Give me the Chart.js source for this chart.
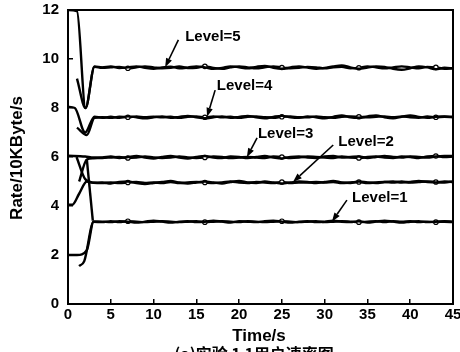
<!DOCTYPE html>
<html><head><meta charset="utf-8">
<script src="https://cdn.jsdelivr.net/npm/chart.js@4/dist/chart.umd.min.js"></script>
<style>html,body{margin:0;padding:0;background:#fff;}canvas{display:block;}</style>
</head><body>
<canvas id="c" width="460" height="352"></canvas>
<script>
// ---------- data ----------
const xTitle = 'Time/s';
const yTitle = 'Rate/10KByte/s';
const caption = '(a)实验 1 1用户速率图';
const xMin = 0, xMax = 45, xStep = 5;
const yMin = 0, yMax = 12, yStep = 2;

const steadyTime = [4,5,6,7,8,9,10,11,12,13,14,15,16,17,18,19,20,21,22,23,24,25,26,27,28,29,30,31,32,33,34,35,36,37,38,39,40,41,42,43,44,45];

// start-up transients (time, value)
const l5aStartT = [0, 1.05, 2.05, 3.1];   const l5aStartV = [12, 11.95, 8.0, 9.70];
const l5bStartT = [1.05, 2.05, 3.1];      const l5bStartV = [9.2, 8.0, 9.68];
const l4aStartT = [0, 0.8, 2.0, 3.1];     const l4aStartV = [8.05, 8.0, 7.0, 7.65];
const l4bStartT = [1.05, 2.2, 3.1];       const l4bStartV = [7.2, 6.9, 7.6];
const l3aStartT = [0, 2.0, 3.0];          const l3aStartV = [6.05, 6.02, 5.98];
const l3bStartT = [1.3, 2.2, 3.0];        const l3bStartV = [5.0, 5.9, 5.95];
const l2aStartT = [0, 0.5, 1.3, 2.2, 3.0];const l2aStartV = [4.05, 4.05, 4.5, 5.0, 4.95];
const l2bStartT = [1.0, 2.0, 3.0];        const l2bStartV = [6.0, 5.1, 4.95];
const l1aStartT = [0, 1.05, 2.2, 3.0];    const l1aStartV = [2.0, 2.0, 2.2, 3.37];
const l1bStartT = [1.3, 1.9, 3.0];        const l1bStartV = [1.55, 1.75, 3.35];
const l1cStartT = [2.2, 2.9];             const l1cStartV = [5.9, 3.4];

// steady-state values at steadyTime
const l5a = [9.66,9.70,9.63,9.66,9.70,9.64, 9.60,9.66,9.69,9.62,9.65,9.70, 9.66,9.60,9.64,9.70,9.66,9.62, 9.68,9.72,9.64,9.60,9.66,9.70, 9.65,9.60,9.64,9.70,9.74,9.66, 9.60,9.65,9.70,9.68,9.60,9.56, 9.62,9.70,9.66,9.58,9.64,9.62];
const l5b = [9.64,9.66,9.68,9.62,9.66,9.70, 9.66,9.62,9.64,9.70,9.63,9.64, 9.70,9.64,9.60,9.66,9.70,9.66, 9.62,9.66,9.70,9.65,9.62,9.64, 9.68,9.66,9.62,9.66,9.68,9.62, 9.64,9.70,9.66,9.62,9.66,9.70, 9.66,9.62,9.68,9.66,9.60,9.62];
const l4a = [7.60,7.64,7.60,7.66,7.62,7.58, 7.62,7.66,7.60,7.64,7.68,7.62, 7.58,7.62,7.66,7.60,7.64,7.68, 7.62,7.58,7.64,7.68,7.62,7.60, 7.66,7.62,7.58,7.64,7.70,7.62, 7.60,7.66,7.70,7.62,7.58,7.64, 7.70,7.64,7.60,7.64,7.66,7.64];
const l4b = [7.62,7.60,7.64,7.62,7.66,7.62, 7.64,7.62,7.64,7.60,7.64,7.66, 7.62,7.66,7.62,7.64,7.60,7.64, 7.66,7.62,7.60,7.64,7.66,7.62, 7.62,7.66,7.62,7.60,7.64,7.66, 7.64,7.62,7.64,7.66,7.62,7.66, 7.62,7.60,7.66,7.62,7.64,7.62];
const l3a = [5.98,6.02,5.96,6.00,6.04,5.98, 5.94,6.00,6.04,5.98,5.94,6.00, 6.04,5.98,5.96,6.02,6.00,5.96, 6.00,6.04,5.98,5.94,6.00,6.02, 5.98,5.96,6.02,6.04,5.98,6.00, 6.02,5.96,6.00,6.04,6.00,5.98, 6.02,6.00,5.98,6.02,6.04,6.04];
const l3b = [5.96,5.98,6.00,5.96,5.98,6.02, 5.98,5.96,5.98,6.02,5.98,5.96, 5.98,6.02,6.00,5.96,5.98,6.00, 5.98,5.96,6.02,6.00,5.96,5.98, 6.02,6.00,5.98,5.96,6.02,5.98, 5.96,6.00,6.02,5.98,5.96,6.02, 6.00,5.96,6.02,6.04,6.00,6.02];
const l2a = [4.96,4.92,4.98,5.00,4.94,4.90, 4.94,4.98,5.02,4.96,4.92,4.96, 5.00,4.96,4.92,4.98,5.02,4.96, 4.94,5.00,4.96,4.92,4.96,5.00, 4.98,4.94,4.98,5.02,4.96,4.94, 5.00,4.96,4.94,4.98,5.00,4.96, 4.98,5.02,4.98,4.96,5.00,4.98];
const l2b = [4.94,4.96,4.94,4.96,4.98,4.94, 4.96,4.94,4.98,4.94,4.96,4.98, 4.96,4.94,4.96,5.00,4.96,4.94, 4.98,4.96,4.94,4.98,4.94,4.96, 4.96,4.98,4.96,4.98,4.94,4.96, 4.98,4.94,4.96,4.98,4.96,5.00, 4.96,4.98,5.00,4.98,4.96,5.00];
const l1a = [3.36,3.34,3.38,3.36,3.32,3.36, 3.40,3.36,3.32,3.36,3.38,3.34, 3.36,3.40,3.36,3.32,3.38,3.36, 3.34,3.38,3.40,3.36,3.32,3.36, 3.38,3.34,3.36,3.40,3.36,3.34, 3.38,3.32,3.36,3.40,3.36,3.32, 3.36,3.38,3.34,3.36,3.38,3.36];
const l1b = [3.34,3.38,3.34,3.38,3.36,3.34, 3.36,3.38,3.36,3.34,3.36,3.38, 3.34,3.36,3.38,3.36,3.34,3.38, 3.36,3.34,3.36,3.38,3.36,3.34, 3.36,3.38,3.34,3.36,3.38,3.36, 3.34,3.36,3.38,3.34,3.38,3.36, 3.38,3.34,3.36,3.34,3.36,3.34];

// annotations: label, label anchor (time,value), arrow tail (time,value), arrow tip (time,value)
const annLabels = ['Level=5','Level=4','Level=3','Level=2','Level=1'];
const annTextT  = [13.7, 17.4, 22.2, 31.6, 33.2];
const annTextV  = [10.9, 8.9, 6.94, 6.61, 4.33];
const annTailT  = [12.9, 17.2, 22.1, 31.0, 32.6];
const annTailV  = [10.78, 8.73, 6.78, 6.49, 4.24];
const annTipT   = [11.35, 16.25, 20.9, 26.3, 30.85];
const annTipV   = [9.66, 7.64, 5.99, 4.98, 3.36];

// ---------- build ----------
function series(st, sv, tt, tv) {
  const pts = st.map((t, i) => ({x: t, y: sv[i]}));
  if (tt) tt.forEach((t, i) => pts.push({x: t, y: tv[i]}));
  return pts;
}
const FONT = '"Liberation Sans", Arial, sans-serif';
function ds(data, markers) {
  return {
    data, borderColor: '#000', borderWidth: 2.4, backgroundColor: '#fff',
    pointRadius: markers ? (c => (c.dataIndex % 9 === 6 ? 2.2 : 0)) : 0,
    pointBorderWidth: 1.2, pointBorderColor: '#000', pointBackgroundColor: '#fff',
    cubicInterpolationMode: 'monotone', fill: false
  };
}
const datasets = [
  ds(series(l5aStartT, l5aStartV, steadyTime, l5a), false),
  ds(series(l5bStartT, l5bStartV, steadyTime, l5b), true),
  ds(series(l4aStartT, l4aStartV, steadyTime, l4a), false),
  ds(series(l4bStartT, l4bStartV, steadyTime, l4b), true),
  ds(series(l3aStartT, l3aStartV, steadyTime, l3a), false),
  ds(series(l3bStartT, l3bStartV, steadyTime, l3b), true),
  ds(series(l2aStartT, l2aStartV, steadyTime, l2a), false),
  ds(series(l2bStartT, l2bStartV, steadyTime, l2b), true),
  ds(series(l1aStartT, l1aStartV, steadyTime, l1a), false),
  ds(series(l1bStartT, l1bStartV, steadyTime, l1b), true),
  ds(series(l1cStartT, l1cStartV), false)
];

const deco = {
  id: 'deco',
  afterDraw(chart) {
    const ctx = chart.ctx, xs = chart.scales.x, ys = chart.scales.y;
    ctx.save();
    ctx.strokeStyle = '#000'; ctx.fillStyle = '#000';
    ctx.setLineDash([]);
    // annotations
    ctx.font = 'bold 15px ' + FONT;
    ctx.textBaseline = 'middle'; ctx.textAlign = 'left';
    annLabels.forEach((lab, i) => {
      ctx.fillText(lab, xs.getPixelForValue(annTextT[i]), ys.getPixelForValue(annTextV[i]));
      const x1 = xs.getPixelForValue(annTailT[i]), y1 = ys.getPixelForValue(annTailV[i]);
      const x2 = xs.getPixelForValue(annTipT[i]), y2 = ys.getPixelForValue(annTipV[i]);
      const ang = Math.atan2(y2 - y1, x2 - x1), HL = 9, W = 3.2;
      const bx = x2 - HL * Math.cos(ang), by = y2 - HL * Math.sin(ang);
      ctx.lineWidth = 1.6;
      ctx.beginPath(); ctx.moveTo(x1, y1); ctx.lineTo(bx, by); ctx.stroke();
      ctx.beginPath();
      ctx.moveTo(x2, y2);
      ctx.lineTo(bx + W * Math.sin(ang), by - W * Math.cos(ang));
      ctx.lineTo(bx - W * Math.sin(ang), by + W * Math.cos(ang));
      ctx.closePath(); ctx.fill();
    });
    // axis titles
    ctx.font = 'bold 17px ' + FONT;
    ctx.textAlign = 'center'; ctx.textBaseline = 'alphabetic';
    ctx.fillText(xTitle, 259, 341);
    ctx.save();
    ctx.translate(22, 158); ctx.rotate(-Math.PI / 2);
    ctx.fillText(yTitle, 0, 0);
    ctx.restore();
    // caption (cut by bottom edge)
    ctx.font = 'bold 16px "Noto Sans CJK SC", ' + FONT;
    ctx.fillText(caption, 254, 360);
    ctx.restore();
  }
};

const noPad = s => { s.paddingTop = 0; s.paddingBottom = 0; s.paddingLeft = 0; s.paddingRight = 0; };
const BORDER = { display: true, color: '#000', width: 2 };

new Chart(document.getElementById('c'), {
  type: 'line',
  data: { datasets },
  options: {
    responsive: false, animation: false, devicePixelRatio: 1,
    layout: { padding: { left: 0, top: 10, right: 7, bottom: 0 } },
    plugins: { legend: { display: false }, tooltip: { enabled: false } },
    scales: {
      x: {
        type: 'linear', position: 'bottom', min: xMin, max: xMax,
        grid: { display: true, drawOnChartArea: false, drawTicks: true, tickLength: -5, color: '#000', lineWidth: 1.5 },
        border: BORDER,
        ticks: { stepSize: xStep, color: '#000', font: { family: FONT, size: 15, weight: 'bold' }, padding: 7, maxRotation: 0, autoSkip: false },
        afterFit: s => { s.height = 48; noPad(s); }
      },
      y: {
        position: 'left', min: yMin, max: yMax,
        grid: { display: true, drawOnChartArea: false, drawTicks: true, tickLength: -5, color: '#000', lineWidth: 1.5 },
        border: BORDER,
        ticks: { stepSize: yStep, color: '#000', font: { family: FONT, size: 15, weight: 'bold' }, padding: 14 },
        afterFit: s => { s.width = 68; noPad(s); }
      },
      xTop: {
        type: 'linear', position: 'top', min: xMin, max: xMax,
        grid: { display: false }, border: BORDER, ticks: { display: false },
        afterFit: s => { s.height = 0; noPad(s); }
      },
      yRight: {
        type: 'linear', position: 'right', min: yMin, max: yMax,
        grid: { display: false }, border: BORDER, ticks: { display: false },
        afterFit: s => { s.width = 0; noPad(s); }
      }
    }
  },
  plugins: [deco]
});
</script>
</body></html>
